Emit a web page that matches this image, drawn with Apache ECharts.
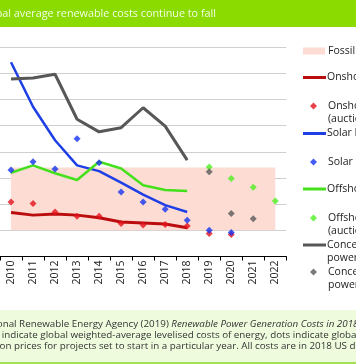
<!DOCTYPE html>
<html>
<head>
<meta charset="utf-8">
<script src="https://cdn.jsdelivr.net/npm/echarts@6/dist/echarts.min.js"></script>
<style>
html,body{margin:0;padding:0;background:#fff;}
#chart{width:356px;height:364px;}
</style>
</head>
<body>
<div id="chart"></div>
<script>
const years = ['2010','2011','2012','2013','2014','2015','2016','2017','2018','2019','2020','2021','2022'];
const fossilRange = [0.05, 0.17];
const onshoreWind = [0.084, 0.079, 0.081, 0.079, 0.074, 0.066, 0.064, 0.062, 0.055, null, null, null, null];
const onshoreAuction = [0.104, 0.101, 0.085, 0.077, 0.077, 0.063, 0.060, 0.061, 0.058, 0.044, 0.042, null, null];
const solarPV = [0.371, 0.286, 0.222, 0.174, 0.163, 0.141, 0.118, 0.098, 0.085, null, null, null, null];
const solarAuction = [0.165, 0.181, 0.167, 0.225, 0.179, 0.123, 0.104, 0.090, 0.069, 0.050, 0.046, null, null];
const offshoreWind = [0.160, 0.174, 0.159, 0.146, 0.181, 0.168, 0.136, 0.127, 0.125, null, null, null, null];
const offshoreAuction = [null, null, null, null, null, null, null, null, null, 0.171, 0.149, 0.132, 0.106];
const csp = [0.339, 0.341, 0.348, 0.262, 0.238, 0.246, 0.284, 0.249, 0.184, null, null, null, null];
const cspAuction = [null, null, null, null, null, null, null, null, null, 0.162, 0.082, 0.072, null];

const FONT = 'Open Sans';
const chart = echarts.init(document.getElementById('chart'), null, {renderer: 'canvas'});

function lineSeries(name, data, color, width) {
  return {name, type: 'line', data, symbol: 'none', showSymbol: false,
    lineStyle: {color, width}, itemStyle: {color}, z: 3, silent: true, connectNulls: false};
}
function dotSeries(name, data, color) {
  return {name, type: 'scatter', data, symbol: 'diamond', symbolSize: 7,
    itemStyle: {color}, z: 4, silent: true};
}

const legendDefs = [
  {name: 'Fossil fuel cost range', label: 'Fossil fuel cost range', y: 51, kind: 'rect'},
  {name: 'Onshore wind', label: 'Onshore wind', y: 77.5, kind: 'line'},
  {name: 'Onshore wind (auction)', label: 'Onshore wind\n(auction)', y: 106, kind: 'dot'},
  {name: 'Solar PV', label: 'Solar PV', y: 133.5, kind: 'line'},
  {name: 'Solar PV (auction)', label: 'Solar PV (auction)', y: 162, kind: 'dot'},
  {name: 'Offshore wind', label: 'Offshore wind', y: 189, kind: 'line'},
  {name: 'Offshore wind (auction)', label: 'Offshore wind\n(auction)', y: 218, kind: 'dot'},
  {name: 'Concentrating solar power', label: 'Concentrating solar\npower', y: 245, kind: 'line'},
  {name: 'Concentrating solar power (auction)', label: 'Concentrating solar\npower (auction)', y: 272, kind: 'dot'}
];

const LH = 13;
const FS = 10.5;
const legends = legendDefs.map(d => {
  const twoLine = d.label.indexOf('\n') >= 0;
  const blockH = twoLine ? (3 * LH) : LH;
  let left, iw, ih, padL, icon;
  if (d.kind === 'line') { left = 303; iw = 23; ih = 3; padL = -4; icon = 'rect'; }
  else if (d.kind === 'dot') { left = 310; iw = 7; ih = 7; padL = 6; icon = 'diamond'; }
  else { left = 303; iw = 22; ih = 7; padL = -2; icon = 'rect'; }
  const label = twoLine ? d.label.split('\n').map(s => '{t|' + s + '}').join('\n') : d.label;
  return {
    show: true, orient: 'vertical', left: left, top: d.y - blockH / 2, padding: 0,
    itemWidth: iw, itemHeight: ih, selectedMode: false,
    data: [{name: d.name, icon: icon}],
    formatter: () => label,
    textStyle: {fontFamily: FONT, fontSize: FS, lineHeight: LH, color: '#222',
      padding: twoLine ? [LH, 0, 0, padL] : [0, 0, 0, padL],
      rich: {t: {fontFamily: FONT, fontSize: FS, lineHeight: LH, color: '#222'}}}
  };
});

const option = {
  animation: false,
  textStyle: {fontFamily: FONT},
  grid: {left: -7.6, right: 69.7, top: 47, bottom: 107.5, containLabel: false},
  legend: legends,
  xAxis: {
    type: 'category', data: years, boundaryGap: true,
    axisLine: {show: true, lineStyle: {color: '#000', width: 1}},
    axisTick: {show: true, length: 4, lineStyle: {color: '#000'}},
    axisLabel: {rotate: 90, fontSize: 10.5, color: '#222', margin: 4, fontFamily: FONT, interval: 0},
    splitLine: {show: false}
  },
  yAxis: {
    type: 'value', min: 0, max: 0.4, interval: 0.05,
    axisLine: {show: false}, axisTick: {show: false},
    axisLabel: {show: false},
    splitLine: {show: true, lineStyle: {color: '#cfcfcf', width: 1}}
  },
  series: [
    {name: 'Fossil fuel cost range', type: 'line', data: [], symbol: 'none',
      itemStyle: {color: '#fcdcd3'}, lineStyle: {color: '#fcdcd3'}, z: 1, silent: true,
      markArea: {silent: true, itemStyle: {color: '#fcdcd3'},
        data: [[{xAxis: years[0], yAxis: fossilRange[0]}, {xAxis: years[years.length - 1], yAxis: fossilRange[1]}]]}},
    lineSeries('Onshore wind', onshoreWind, '#bb0d0d', 3),
    dotSeries('Onshore wind (auction)', onshoreAuction, '#e3121b'),
    lineSeries('Solar PV', solarPV, '#1f3fe6', 2.5),
    dotSeries('Solar PV (auction)', solarAuction, '#1433f0'),
    lineSeries('Offshore wind', offshoreWind, '#45e01c', 2.5),
    dotSeries('Offshore wind (auction)', offshoreAuction, '#4cf01f'),
    lineSeries('Concentrating solar power', csp, '#575757', 3),
    dotSeries('Concentrating solar power (auction)', cspAuction, '#5a5a5a')
  ],
  graphic: [
    {type: 'rect', left: 0, top: 0, shape: {width: 356, height: 27}, style: {fill: '#8cdb00'}, silent: true},
    {type: 'text', x: 216, y: 14, style: {text: 'Global average renewable costs continue to fall',
      fill: '#f3fbe4', font: '10.8px "Open Sans"', textAlign: 'right', textVerticalAlign: 'middle'}, silent: true},
    {type: 'rect', left: 0, top: 310, shape: {width: 356, height: 52}, style: {fill: '#effbdd'}, silent: true},
    {type: 'rect', left: 0, top: 362, shape: {width: 356, height: 2}, style: {fill: '#a6e05a'}, silent: true},
    {type: 'text', x: -79, y: 324.5, style: {
      text: '{n|Source: International Renewable Energy Agency (2019) }{i|Renewable Power Generation Costs in 2018}{n|.}',
      textVerticalAlign: 'middle',
      rich: {n: {font: '9.8px "Open Sans"', fill: '#333'}, i: {font: 'italic 9.8px "Open Sans"', fill: '#333'}}}, silent: true},
    {type: 'text', x: -52, y: 335.5, style: {
      text: 'Note: Lines indicate global weighted-average levelised costs of energy, dots indicate global weighted-average',
      font: '9.8px "Open Sans"', fill: '#333', textVerticalAlign: 'middle'}, silent: true},
    {type: 'text', x: -22.5, y: 346, style: {
      text: 'auction prices for projects set to start in a particular year. All costs are in 2018 US dollars.',
      font: '9.8px "Open Sans"', fill: '#333', textVerticalAlign: 'middle'}, silent: true}
  ]
};
chart.setOption(option);
</script>
</body>
</html>
